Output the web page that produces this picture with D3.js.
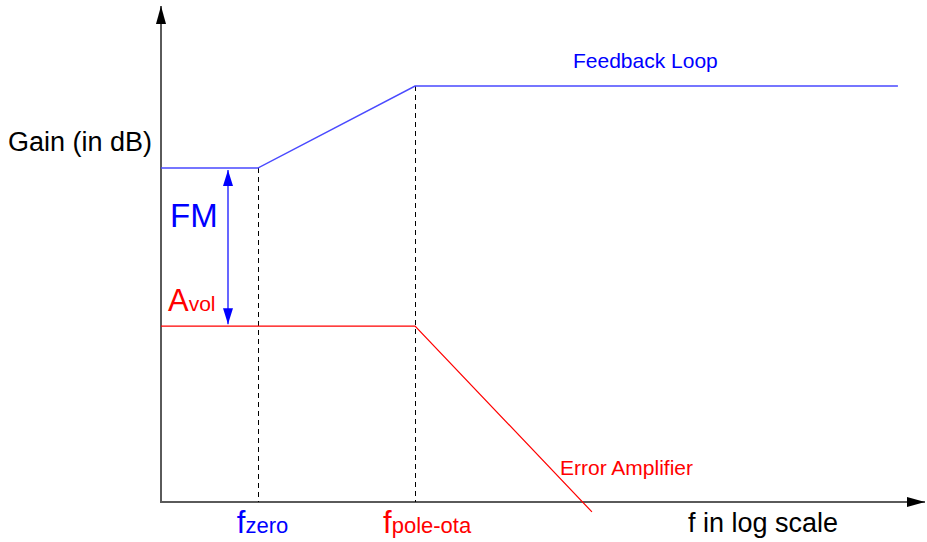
<!DOCTYPE html>
<html>
<head>
<meta charset="utf-8">
<script src="https://cdn.jsdelivr.net/npm/d3@7"></script>
<style>
  body { margin: 0; background: #fff; }
  text { font-family: Arial, "Liberation Sans", sans-serif; }
</style>
</head>
<body>
<div id="container"></div>
<script>
let w = 927;
let h = 542;

// frequencies (log axis) and gains (dB)
let feedbackFreq = [1, 4.3, 46, 66500];
let feedbackGain = [67.6, 67.6, 84.2, 84.2];
let errorFreq = [1, 46, 661];
let errorGain = [35.6, 35.6, -2.0];
let markFreq = [4.3, 46];
let markGain = [67.6, 84.2];

let viz = d3.select("#container")
  .append("svg")
  .attr("width", w)
  .attr("height", h);

let xScale = d3.scaleLog().domain([1, 1e5]).range([161, 925]);
let yScale = d3.scaleLinear().domain([0, 100]).range([502, 8]);

let defs = viz.append("defs");
function addArrow(id, color, len, wid) {
  defs.append("marker")
    .attr("id", id)
    .attr("viewBox", "0 0 " + len + " " + wid)
    .attr("refX", len).attr("refY", wid / 2)
    .attr("markerWidth", len).attr("markerHeight", wid)
    .attr("markerUnits", "userSpaceOnUse")
    .attr("orient", "auto-start-reverse")
    .append("path")
    .attr("d", "M0,0 L" + len + "," + (wid / 2) + " L0," + wid + " Z")
    .attr("fill", color);
}
addArrow("arrowBlack", "#000", 18, 10);
addArrow("arrowBlue", "#0000ff", 16, 10);

// axes
viz.append("line")
  .attr("x1", xScale(1)).attr("y1", yScale(0))
  .attr("x2", xScale(1)).attr("y2", 6)
  .attr("stroke", "#5a5a5a").attr("stroke-width", 2)
  .attr("marker-end", "url(#arrowBlack)");
viz.append("line")
  .attr("x1", xScale(1) - 1).attr("y1", yScale(0))
  .attr("x2", 925).attr("y2", yScale(0))
  .attr("stroke", "#5a5a5a").attr("stroke-width", 2)
  .attr("marker-end", "url(#arrowBlack)");

// dashed guides
viz.selectAll(".guide")
  .data(markFreq)
  .enter().append("line")
  .attr("class", "guide")
  .attr("x1", d => Math.round(xScale(d)) + 0.5).attr("x2", d => Math.round(xScale(d)) + 0.5)
  .attr("y1", (d, i) => yScale(markGain[i]))
  .attr("y2", yScale(0))
  .attr("stroke", "#000").attr("stroke-width", 1)
  .attr("shape-rendering", "crispEdges")
  .attr("stroke-dasharray", "5,4");

let line = d3.line().x(d => xScale(d[0])).y(d => yScale(d[1]));

viz.append("path")
  .datum(d3.zip(feedbackFreq, feedbackGain))
  .attr("d", line)
  .attr("fill", "none")
  .attr("stroke", "#4a4aff")
  .attr("stroke-width", 1.5);

viz.append("path")
  .datum(d3.zip(errorFreq, errorGain))
  .attr("d", line)
  .attr("fill", "none")
  .attr("stroke", "#ff0000")
  .attr("stroke-width", 1.2);

// FM double arrow
viz.append("line")
  .attr("x1", 228).attr("x2", 228)
  .attr("y1", yScale(feedbackGain[0]) + 2)
  .attr("y2", yScale(errorGain[0]) - 2)
  .attr("stroke", "#0000ff").attr("stroke-width", 1.2)
  .attr("marker-start", "url(#arrowBlue)")
  .attr("marker-end", "url(#arrowBlue)");

// labels
viz.append("text").attr("x", 8).attr("y", 151)
  .attr("font-size", 27).attr("fill", "#000").text("Gain (in dB)");

viz.append("text").attr("x", 170).attr("y", 227)
  .attr("font-size", 33).attr("fill", "#0000ff").text("FM");

let avol = viz.append("text").attr("x", 168).attr("y", 311)
  .attr("font-size", 31).attr("fill", "#ff0000");
avol.append("tspan").text("A");
avol.append("tspan").attr("font-size", 21).text("vol");

viz.append("text").attr("x", 573).attr("y", 68)
  .attr("font-size", 21).attr("fill", "#0000ff").text("Feedback Loop");

viz.append("text").attr("x", 560).attr("y", 475)
  .attr("font-size", 21).attr("fill", "#ff0000").text("Error Amplifier");

viz.append("text").attr("x", 688).attr("y", 532)
  .attr("font-size", 27).attr("fill", "#000").text("f in log scale");

let fz = viz.append("text").attr("x", xScale(markFreq[0]) - 21).attr("y", 533)
  .attr("font-size", 31).attr("fill", "#0000ff");
fz.append("tspan").text("f");
fz.append("tspan").attr("font-size", 22).text("zero");

let fp = viz.append("text").attr("x", xScale(markFreq[1]) - 32).attr("y", 533)
  .attr("font-size", 31).attr("fill", "#ff0000");
fp.append("tspan").text("f");
fp.append("tspan").attr("font-size", 22).text("pole-ota");
</script>
</body>
</html>
